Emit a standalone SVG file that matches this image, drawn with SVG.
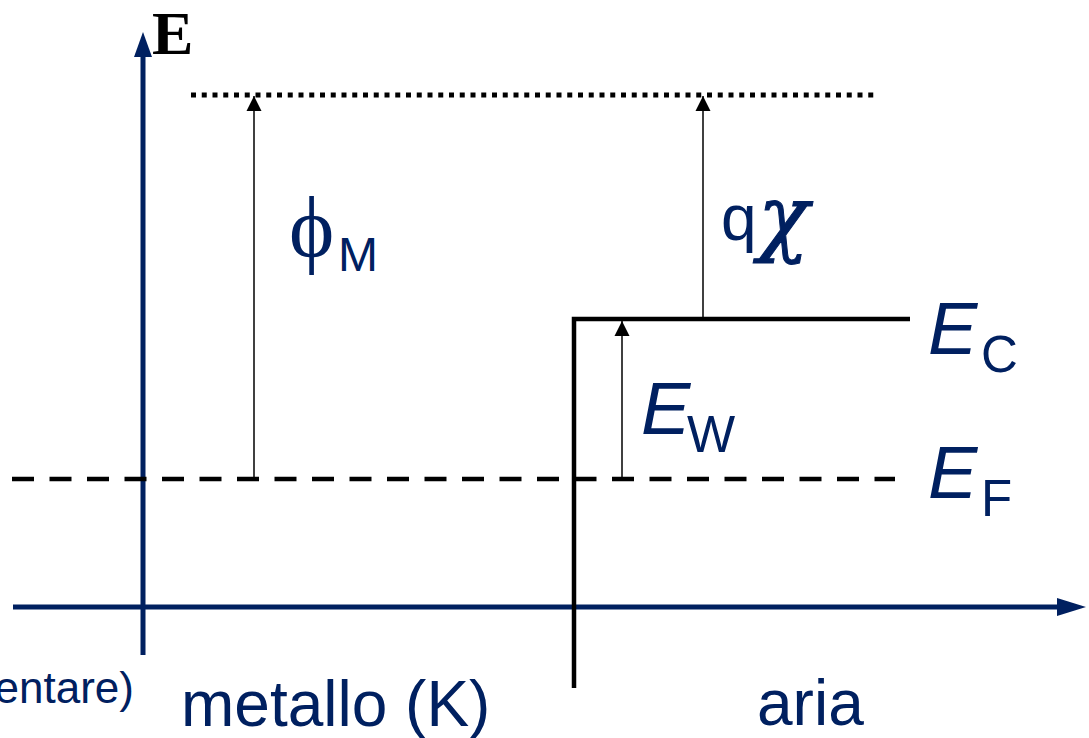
<svg xmlns="http://www.w3.org/2000/svg" width="1089" height="738" viewBox="0 0 1089 738">
<style>
.lbl{font-family:"Liberation Sans",Arial,sans-serif;fill:#002060}
.it{font-style:italic}
.sym{font-family:"Liberation Serif","DejaVu Serif",serif;fill:#002060}
.thin{stroke:#000;stroke-width:1.5;fill:none}
.axis{stroke:#002060;stroke-width:5;fill:none}
</style>
<defs>
<marker id="ah" markerUnits="userSpaceOnUse" markerWidth="16" markerHeight="16" viewBox="0 0 16 16" refX="15" refY="8" orient="auto">
<path d="M0,0.5 L15,8 L0,15.5 Z" fill="#000"/>
</marker>
</defs>
<rect width="1089" height="738" fill="#fff"/>
<g id="axes">
<line class="axis" x1="143" y1="655" x2="143" y2="56"/>
<polygon points="143,32 134,57 152,57" fill="#002060"/>
<line class="axis" x1="13" y1="607" x2="1058" y2="607"/>
<polygon points="1086,607 1057,598 1057,616" fill="#002060"/>
</g>
<g id="levels">
<line x1="191" y1="95" x2="879" y2="95" stroke="#000" stroke-width="5" stroke-dasharray="5 5.75"/>
<line x1="12" y1="479" x2="895" y2="479" stroke="#000" stroke-width="4.5" stroke-dasharray="22 15.5"/>
<polyline points="574,688 574,319 910,319" fill="none" stroke="#000" stroke-width="4.5"/>
</g>
<g id="connectors">
<line class="thin" x1="254" y1="479" x2="254" y2="96" marker-end="url(#ah)"/>
<line class="thin" x1="703" y1="319" x2="703" y2="96" marker-end="url(#ah)"/>
<line class="thin" x1="622" y1="479" x2="622" y2="321" marker-end="url(#ah)"/>
</g>
<g id="label-E">
<text x="152" y="54" font-family="'Liberation Serif','Times New Roman',serif" font-weight="bold" font-size="62" fill="#000">E</text>
</g>
<g id="label-phiM">
<text class="sym" x="289" y="256" font-size="86">ϕ</text>
<text class="lbl" x="338" y="271" font-size="48">M</text>
</g>
<g id="label-qchi">
<text class="lbl" x="721" y="240" font-size="64">q</text>
<text x="758" y="245" font-family="'DejaVu Serif',serif" font-style="italic" font-size="84" fill="#002060" stroke="#002060" stroke-width="1">χ</text>
</g>
<g id="label-EC">
<text class="lbl it" x="928" y="354" font-size="74">E</text>
<text class="lbl" x="981" y="372" font-size="51">C</text>
</g>
<g id="label-EW">
<text class="lbl it" x="641" y="434" font-size="74">E</text>
<text class="lbl" x="687" y="452" font-size="51">W</text>
</g>
<g id="label-EF">
<text class="lbl it" x="928" y="498" font-size="74">E</text>
<text class="lbl" x="981" y="516" font-size="51">F</text>
</g>
<g id="label-bottom">
<text class="lbl" x="134" y="703" font-size="44" text-anchor="end">entare)</text>
<text class="lbl" x="181" y="726" font-size="64">metallo (K)</text>
<text class="lbl" x="757" y="725" font-size="64">aria</text>
</g>
</svg>
